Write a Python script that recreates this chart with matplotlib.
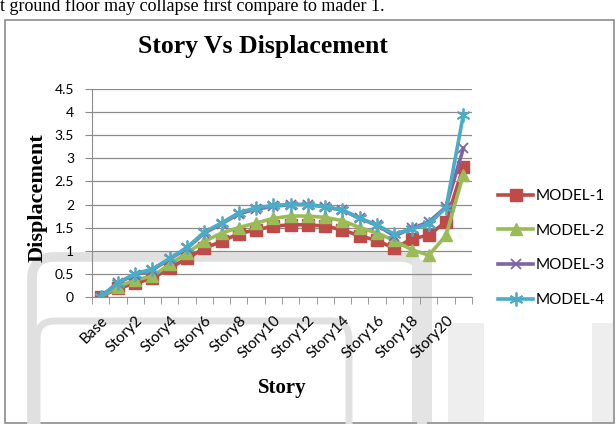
import matplotlib
matplotlib.use("Agg")
import matplotlib.pyplot as plt
from matplotlib.patches import Rectangle, FancyBboxPatch, Arc

# categories on the x axis
stories = ["Base"] + ["Story" + str(i) for i in range(1, 22)]

# displacement per model
model1 = [0, 0.18, 0.29, 0.40, 0.62, 0.83, 1.05, 1.20, 1.37, 1.45, 1.53, 1.56,
          1.56, 1.53, 1.45, 1.32, 1.22, 1.05, 1.25, 1.34, 1.63, 2.82]
model2 = [0, 0.22, 0.36, 0.45, 0.70, 0.95, 1.20, 1.38, 1.50, 1.60, 1.70, 1.75,
          1.75, 1.72, 1.65, 1.50, 1.38, 1.22, 1.02, 0.90, 1.33, 2.65]
model3 = [0, 0.30, 0.48, 0.58, 0.82, 1.05, 1.38, 1.58, 1.80, 1.90, 1.96, 2.00,
          2.00, 1.95, 1.88, 1.70, 1.55, 1.32, 1.48, 1.62, 1.95, 3.22]
model4 = [0, 0.30, 0.50, 0.60, 0.83, 1.07, 1.40, 1.60, 1.82, 1.93, 1.98, 2.00,
          2.00, 1.95, 1.88, 1.70, 1.55, 1.36, 1.47, 1.58, 1.93, 3.95]

names = ["MODEL-1", "MODEL-2", "MODEL-3", "MODEL-4"]
yticks = [0, 0.5, 1, 1.5, 2, 2.5, 3, 3.5, 4, 4.5]

W, H = 616, 424
fig = plt.figure(figsize=(W / 100, H / 100), dpi=100)

# background layer in pixel units: page text, frame, faint watermark shapes
bg = fig.add_axes([0, 0, 1, 1], zorder=-1)
bg.set_xlim(0, W)
bg.set_ylim(H, 0)
bg.axis("off")

bg.text(-8, 11, "at ground floor may collapse first compare to mader 1.",
        family="Liberation Serif", fontsize=13, va="baseline", ha="left")
bg.add_patch(Rectangle((5, 20), 609, 403, fill=False, edgecolor="#8c8c8c", lw=1.2))

wm = "#e0e0e0"
bg.add_patch(FancyBboxPatch((32, 257), 390, 260, boxstyle="round,pad=0,rounding_size=22",
                            fill=False, edgecolor=wm, lw=7))
bg.add_patch(FancyBboxPatch((37, 321), 312, 200, boxstyle="round,pad=0,rounding_size=18",
                            fill=False, edgecolor=wm, lw=5))
bg.add_patch(Rectangle((448, 323), 36, 99, facecolor="#eeeeee", edgecolor="none"))
bg.add_patch(Rectangle((592, 323), 21, 99, facecolor="#eeeeee", edgecolor="none"))
bg.add_patch(Rectangle((412, 260), 20, 162, facecolor="#e4e4e4", edgecolor="none"))
bg.add_patch(Arc((196, 445), 80, 80, theta1=0, theta2=180, edgecolor=wm, lw=8))

ax = fig.add_axes([92 / W, 1 - 296.7 / H, 380 / W, (296.7 - 89.3) / H])
ax.set_facecolor("none")
x = list(range(len(stories)))

ax.plot(x, model1, color="#BE4B48", lw=2.6, marker="s", ms=8, label=names[0])
ax.plot(x, model2, color="#9BBB59", lw=2.6, marker="^", ms=8.5, label=names[1])
ax.plot(x, model3, color="#8064A2", lw=2.6, marker="x", ms=7.5, mew=1.3, label=names[2])
ax.plot(x, model4, color="#4BACC6", lw=2.6, marker=(6, 2, 0), ms=10, mew=1.3, label=names[3])

ax.set_xlim(-0.5, len(stories) - 0.5)
ax.set_ylim(0, 4.5)
ax.set_yticks(yticks)
ax.set_yticklabels([("%g" % v) for v in yticks], family="Lato", fontsize=10)
ax.yaxis.grid(True, color="#8c8c8c", lw=0.9)
ax.set_axisbelow(True)

ax.set_xticks(x[::2])
ax.set_xticklabels(stories[::2], rotation=45, ha="right", rotation_mode="anchor",
                   family="Lato", fontsize=11)
ax.set_xticks([i - 0.5 for i in range(len(stories) + 1)], minor=True)
ax.tick_params(axis="x", which="major", length=0, pad=12)
ax.tick_params(axis="x", which="minor", length=5, color="#8c8c8c", direction="out")
ax.tick_params(axis="y", length=5, color="#8c8c8c", pad=8)

for s in ["top", "right"]:
    ax.spines[s].set_visible(False)
ax.spines["left"].set_color("#8c8c8c")
ax.spines["bottom"].set_color("#8c8c8c")

fig.text(263 / W, 1 - 47 / H, "Story Vs Displacement", family="Liberation Serif",
         fontweight="bold", fontsize=18.5, ha="center", va="center")
fig.text(38 / W, 1 - 198 / H, "Displacement", family="Liberation Serif",
         fontweight="bold", fontsize=16, rotation=90, ha="center", va="center")
fig.text(282 / W, 1 - 388 / H, "Story", family="Liberation Serif",
         fontweight="bold", fontsize=15, ha="center", va="center")

fig.legend(loc="upper left", bbox_to_anchor=(498 / W, 1 - 189 / H), frameon=False,
           prop={"family": "Lato", "size": 11}, handlelength=2.3, handletextpad=0.15,
           labelspacing=1.35, borderpad=0, borderaxespad=0)

fig.savefig("out.png", dpi=100)
